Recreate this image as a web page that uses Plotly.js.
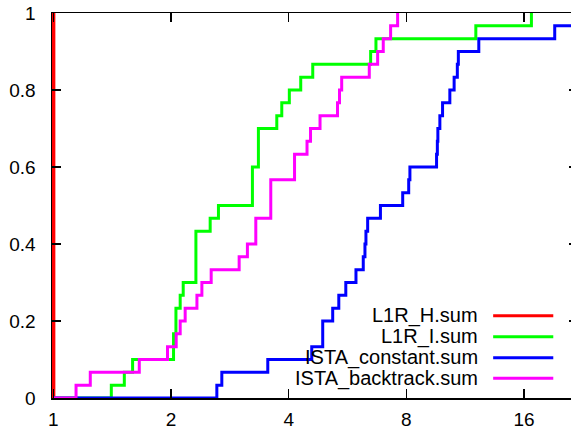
<!DOCTYPE html>
<html>
<head>
<meta charset="utf-8">
<script src="https://cdn.plot.ly/plotly-3.0.1.min.js"></script>
<style>
html,body{margin:0;padding:0;overflow:hidden;background:#fff;}
#chart{width:580px;height:430px;}
</style>
</head>
<body>
<div id="chart"></div>
<script>
// Series names (legend order)
var seriesNames = ["L1R_H.sum", "L1R_I.sum", "ISTA_constant.sum", "ISTA_backtrack.sum"];
var seriesColors = ["#ff0000", "#00ff00", "#0000ff", "#ff00ff"];
var seriesWidths = [4, 3, 3, 3];

// L1R_H.sum : all problems at ratio 1
var l1rHX = [1, 1];
var l1rHY = [0, 1];

// L1R_I.sum
var l1rIX = [1, 1.407, 1.519, 1.595, 2.03, 2.059, 2.111, 2.149, 2.316, 2.519, 2.645, 3.231, 3.347, 3.73, 3.841, 4.016, 4.295, 4.61, 6.484, 6.69, 12.05, 16.72];
var l1rIY = [0, 0.033, 0.067, 0.1, 0.167, 0.233, 0.267, 0.3, 0.433, 0.467, 0.5, 0.6, 0.7, 0.733, 0.767, 0.8, 0.833, 0.867, 0.9, 0.933, 0.967, 1];

// ISTA_constant.sum
var istaCX = [1, 2.62, 2.698, 3.537, 4.583, 4.889, 5.185, 5.375, 5.601, 5.947, 6.208, 6.27, 6.307, 6.371, 6.869, 7.832, 8.114, 8.172, 9.561, 9.606, 9.635, 9.749, 9.905, 10.339, 10.604, 10.806, 10.87, 12.263, 19.18, 26];
var istaCY = [0, 0.033, 0.067, 0.1, 0.133, 0.2, 0.233, 0.267, 0.3, 0.333, 0.367, 0.4, 0.433, 0.467, 0.5, 0.533, 0.567, 0.6, 0.633, 0.667, 0.7, 0.733, 0.767, 0.8, 0.833, 0.867, 0.9, 0.933, 0.967, 1];

// ISTA_backtrack.sum
var istaBX = [1, 1.143, 1.243, 1.659, 1.959, 2.062, 2.111, 2.174, 2.33, 2.399, 2.534, 2.988, 3.137, 3.296, 3.6, 4.141, 4.457, 4.55, 4.812, 5.334, 5.397, 5.467, 6.432, 6.757, 6.984, 7.294, 7.601];
var istaBY = [0, 0.033, 0.067, 0.1, 0.133, 0.167, 0.2, 0.233, 0.267, 0.3, 0.333, 0.367, 0.4, 0.467, 0.567, 0.633, 0.667, 0.7, 0.733, 0.767, 0.8, 0.833, 0.867, 0.9, 0.933, 0.967, 1];

var xTickVals = [1, 2, 4, 8, 16];
var xTickText = ["1", "2", "4", "8", "16"];
var yTickVals = [0, 0.2, 0.4, 0.6, 0.8, 1];
var yTickText = ["0", "0.2", "0.4", "0.6", "0.8", "1"];

var xs = [l1rHX, l1rIX, istaCX, istaBX];
var ys = [l1rHY, l1rIY, istaCY, istaBY];

var traces = [];
for (var i = 0; i < seriesNames.length; i++) {
  traces.push({
    type: "scatter",
    mode: "lines",
    name: seriesNames[i],
    x: xs[i],
    y: ys[i],
    line: {shape: "hv", color: seriesColors[i], width: seriesWidths[i]},
    showlegend: false,
    hoverinfo: "skip"
  });
}

// Legend built as text on the left, line sample on the right (gnuplot style)
var legRowsY = [0.2138, 0.1592, 0.1047, 0.0512];
var annotations = [];
var shapes = [];
for (var j = 0; j < seriesNames.length; j++) {
  annotations.push({
    xref: "paper", yref: "paper",
    x: 0.8133, y: legRowsY[j],
    xanchor: "right", yanchor: "middle",
    text: seriesNames[j],
    showarrow: false,
    font: {family: "Liberation Sans, Arial, sans-serif", size: 20, color: "#000"}
  });
  shapes.push({
    type: "line", xref: "paper", yref: "paper",
    x0: 0.8387, x1: 0.9530, y0: legRowsY[j], y1: legRowsY[j],
    line: {color: seriesColors[j], width: 3}
  });
}

var axisCommon = {
  showgrid: false,
  zeroline: false,
  showline: true,
  linecolor: "#000",
  linewidth: 1.5,
  mirror: "ticks",
  ticks: "inside",
  ticklen: 9,
  tickwidth: 1.2,
  tickcolor: "#000",
  tickfont: {family: "Liberation Sans, Arial, sans-serif", size: 19, color: "#000"}
};

var layout = {
  width: 580,
  height: 430,
  margin: {l: 52, r: 2, t: 13, b: 32, pad: 0},
  paper_bgcolor: "#fff",
  plot_bgcolor: "#fff",
  showlegend: false,
  xaxis: Object.assign({}, axisCommon, {
    type: "log",
    range: [Math.log10(0.992), Math.log10(22)],
    tickvals: xTickVals,
    ticktext: xTickText,
    ticklabelstandoff: 4
  }),
  yaxis: Object.assign({}, axisCommon, {
    range: [0, 1],
    tickvals: yTickVals,
    ticktext: yTickText,
    ticklabelstandoff: 11
  }),
  annotations: annotations,
  shapes: shapes
};

Plotly.newPlot("chart", traces, layout, {staticPlot: true, displayModeBar: false});
</script>
</body>
</html>
